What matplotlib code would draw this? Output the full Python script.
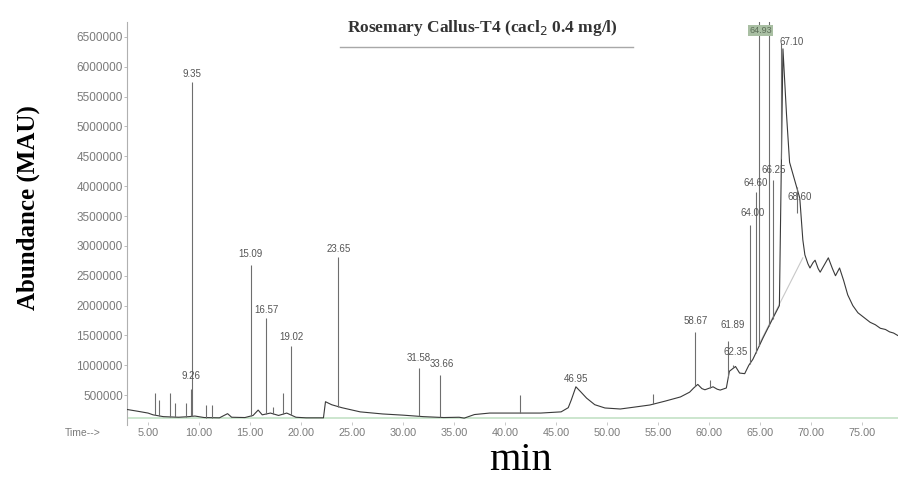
import numpy as np
import matplotlib
matplotlib.use("Agg")
import matplotlib.pyplot as plt

# total ion trace: retention time (min) and abundance
trace_t = [2.95, 4.0, 5.0, 5.5, 6.5, 8.0, 9.0, 9.6, 10.5, 12.0, 12.8, 13.2,
           14.5, 15.3, 15.8, 16.2, 17.0, 17.8, 18.6, 19.5, 20.5, 22.2, 22.4,
           23.0, 24.0, 25.8, 28.0, 30.0, 32.0, 34.0, 35.5, 36.0, 37.0, 38.5,
           41.0, 43.5, 45.5, 46.2, 46.5, 46.95, 47.4, 48.0, 48.8, 49.8, 51.3,
           52.7, 54.2, 55.7, 57.2, 58.1, 58.5, 58.9, 59.3, 59.6, 60.4, 60.8,
           61.1, 61.7, 62.0, 62.6, 63.0, 63.5, 63.9, 64.3, 65.3, 66.3, 66.9,
           67.25, 67.6, 67.9, 68.4, 68.9, 69.2, 69.4, 69.7, 69.9, 70.2, 70.4,
           70.7, 70.9, 71.3, 71.7, 72.1, 72.4, 72.8, 73.2, 73.6, 74.1, 74.6,
           75.2, 75.8, 76.3, 76.8, 77.3, 77.7, 78.1, 78.5]
trace_v = [260e3, 230e3, 200e3, 170e3, 140e3, 130e3, 140e3, 150e3, 125e3, 120e3,
           190e3, 130e3, 125e3, 160e3, 250e3, 170e3, 200e3, 160e3, 200e3, 130e3,
           120e3, 120e3, 390e3, 340e3, 290e3, 220e3, 185e3, 165e3, 140e3, 125e3,
           130e3, 115e3, 175e3, 200e3, 200e3, 200e3, 220e3, 290e3, 420e3, 640e3,
           560e3, 450e3, 340e3, 285e3, 268e3, 300e3, 335e3, 400e3, 470e3, 550e3,
           620e3, 680e3, 610e3, 590e3, 640e3, 600e3, 585e3, 620e3, 900e3, 980e3,
           870e3, 860e3, 1.0e6, 1.1e6, 1.46e6, 1.8e6, 2.0e6,
           6.3e6, 5.2e6, 4.4e6, 4.1e6, 3.8e6, 3.1e6, 2.85e6, 2.7e6, 2.63e6,
           2.72e6, 2.76e6, 2.62e6, 2.56e6, 2.68e6, 2.8e6, 2.62e6, 2.5e6, 2.63e6,
           2.42e6, 2.18e6, 2.0e6, 1.88e6, 1.80e6, 1.72e6, 1.68e6, 1.62e6, 1.60e6,
           1.56e6, 1.54e6, 1.5e6]

# labelled peaks
peak_lbl = ["9.26", "9.35", "15.09", "16.57", "19.02", "23.65", "31.58", "33.66",
            "46.95", "58.67", "61.89", "62.35", "64.00", "64.60", "64.93",
            "66.25", "67.10", "68.60"]
peak_h = [600e3, 5.75e6, 2.68e6, 1.79e6, 1.32e6, 2.81e6, 0.95e6, 0.84e6,
          0.64e6, 1.56e6, 1.40e6, 1.0e6, 3.35e6, 3.9e6, 7.2e6,
          4.1e6, 6.4e6, 3.55e6]
peak_t = [float(s) for s in peak_lbl]

# small unlabelled spikes
minor_t = [5.7, 6.1, 7.2, 7.65, 8.7, 10.7, 11.3, 17.3, 18.2, 41.5, 54.5, 60.1, 65.9]
minor_h = [535e3, 420e3, 535e3, 370e3, 370e3, 335e3, 335e3, 300e3, 535e3,
           500e3, 520e3, 750e3, 7.0e6]

# straight integration baseline under the late cluster
intg_t = [64.9, 69.2]
intg_v = [1.35e6, 2.8e6]

y_ticks = [500000, 1000000, 1500000, 2000000, 2500000, 3000000, 3500000,
           4000000, 4500000, 5000000, 5500000, 6000000, 6500000]
x_ticks = [5, 10, 15, 20, 25, 30, 35, 40, 45, 50, 55, 60, 65, 70, 75]

W, H = 898, 479
fig = plt.figure(figsize=(W / 100, H / 100), dpi=100)
ax = fig.add_axes([127 / W, 54 / H, 771 / W, 403 / H])
ax.set_xlim(2.94, 78.53)
ax.set_ylim(0, 6.75e6)

grey = "#7a7a7a"
ax.axhline(110e3, color="#c4e2c6", lw=1.2, zorder=1)
ax.plot(intg_t, intg_v, color="#c8c8c8", lw=0.8, zorder=2)
ax.plot(trace_t, trace_v, color="#3a3a3a", lw=0.8, zorder=3)

all_t = np.array(peak_t + minor_t)
all_h = np.array(peak_h + minor_h)
foot = np.interp(all_t, trace_t, trace_v)
ax.vlines(all_t, foot, all_h, color="#6e6e6e", lw=0.8, zorder=3)

# label placement (points) relative to each apex
offs = {"9.26": (0, 6), "15.09": (0, 4), "19.02": (0, 3), "31.58": (0, 4),
        "33.66": (1, 4), "58.67": (0, 4), "61.89": (3, 8), "62.35": (2, 6),
        "64.00": (2, 5), "64.60": (0, 3), "66.25": (1, 4), "67.10": (7, -3),
        "68.60": (2, 8)}
for lbl, t, h in zip(peak_lbl, peak_t, peak_h):
    if lbl == "64.93":
        ax.annotate(lbl, (t, 6.75e6), xytext=(1, -6), textcoords="offset points",
                    ha="center", va="center", fontsize=6.5, color="#5c6d58",
                    family="Liberation Sans", annotation_clip=False,
                    bbox=dict(boxstyle="square,pad=0.1", fc="#a9bfa3", ec="none"))
        continue
    dx, dy = offs.get(lbl, (0, 2))
    ax.annotate(lbl, (t, h), xytext=(dx, dy), textcoords="offset points",
                ha="center", va="bottom", fontsize=7, color="#555555",
                family="Liberation Sans")

for s in ["top", "right", "bottom"]:
    ax.spines[s].set_visible(False)
ax.spines["left"].set_color("#b0b0b0")
ax.spines["left"].set_linewidth(0.8)

ax.set_yticks(y_ticks)
ax.set_yticklabels([str(v) for v in y_ticks])
ax.set_xticks(x_ticks)
ax.set_xticklabels([f"{v:.2f}" for v in x_ticks])
ax.tick_params(axis="y", length=2, width=0.6, color="#b0b0b0", pad=1,
               labelsize=8.5, labelcolor=grey)
ax.tick_params(axis="x", length=2, width=0.6, direction="in", color="#c0c0c0",
               pad=2, labelsize=7.8, labelcolor=grey)
for lab in ax.get_xticklabels() + ax.get_yticklabels():
    lab.set_family("Liberation Sans")

fig.text(65 / W, 1 - 433 / H, "Time-->", fontsize=7.5, color=grey,
         family="Liberation Sans", va="center")

# title with rule underneath
fig.text(482 / W, 1 - 28 / H, "Rosemary Callus-T4 (cacl$_2$ 0.4 mg/l)",
         fontsize=12.5, fontweight="bold", family="Liberation Serif",
         color="#333333", ha="center", va="center")
fig.add_artist(plt.Line2D([340 / W, 633 / W], [1 - 47 / H, 1 - 47 / H],
                          color="#a8a8a8", lw=1))

fig.text(28 / W, 1 - 208 / H, "Abundance (MAU)", rotation=90, fontsize=18,
         fontweight="bold", family="Liberation Serif", ha="center", va="center")
fig.text(520 / W, 1 - 460 / H, "min", fontsize=29, family="Liberation Serif",
         ha="center", va="center")

fig.savefig("out.png", dpi=100)
